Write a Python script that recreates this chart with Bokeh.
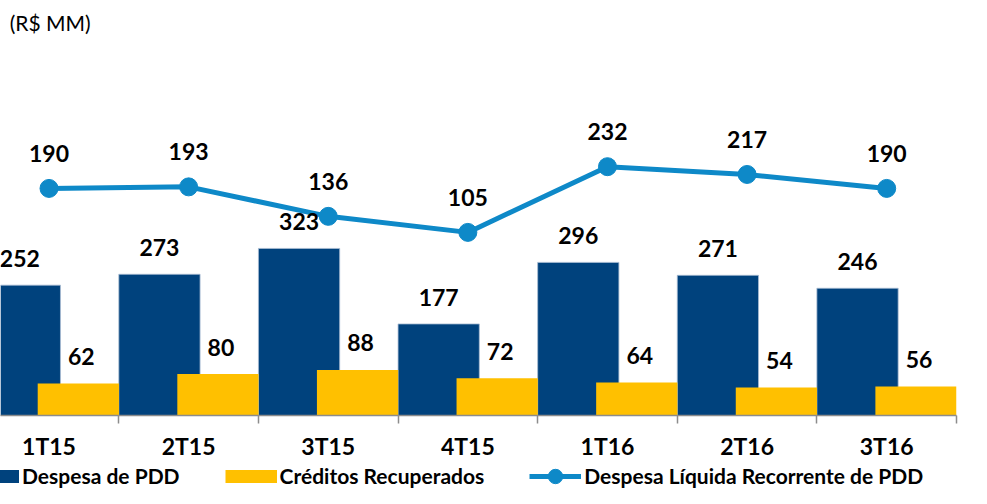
from bokeh.plotting import figure
from bokeh.layouts import column
from bokeh.models import (Range1d, FixedTicker, Legend, LegendItem, Label,
                          ColumnDataSource)
from bokeh.transform import dodge
from bokeh.core.properties import value
from bokeh.embed import file_html
from bokeh.resources import INLINE

# ---- data ----
quarters = ["1T15", "2T15", "3T15", "4T15", "1T16", "2T16", "3T16"]
despesa_pdd = [252, 273, 323, 177, 296, 271, 246]
creditos_recuperados = [62, 80, 88, 72, 64, 54, 56]
despesa_liquida = [190, 193, 136, 105, 232, 217, 190]

series_names = ["Despesa de PDD", "Créditos Recuperados",
                "Despesa Líquida Recorrente de PDD"]

idx = list(range(len(quarters)))
src = ColumnDataSource(dict(
    x=idx,
    desp=despesa_pdd,
    cred=creditos_recuperados,
    liq=despesa_liquida,
    desp_lbl=[str(v) for v in despesa_pdd],
    cred_lbl=[str(v) for v in creditos_recuperados],
    liq_lbl=[str(v) for v in despesa_liquida],
))

DARK = "#00427D"
YELLOW = "#FFC000"
LINE = "#0E89C8"
FONT = "Lato"

X_START = -0.3475
Y_TOP = 802.3
LINE_SHIFT = 249
W = 971

p = figure(width=W, height=462, output_backend="svg", toolbar_location=None,
           x_range=Range1d(X_START, 6.5), y_range=Range1d(0, Y_TOP),
           y_axis_location=None,
           min_border_left=0, min_border_right=15, min_border_top=0,
           min_border_bottom=44)
p.extra_y_ranges = {"line": Range1d(-LINE_SHIFT, Y_TOP - LINE_SHIFT)}
p.outline_line_color = None
p.xgrid.visible = False
p.ygrid.visible = False

BW = 0.582
rd = p.vbar(x=dodge("x", -0.209), top="desp", width=BW, bottom=0, source=src,
            fill_color=DARK, line_color="#A9BCD3", line_width=0.8)
ry = p.vbar(x=dodge("x", 0.21), top="cred", width=BW, bottom=0, source=src,
            fill_color=YELLOW, line_color=None)
rl = p.line(x="x", y="liq", source=src, y_range_name="line",
            line_color=LINE, line_width=5)
rs = p.ellipse(x="x", y="liq", source=src, y_range_name="line",
               width=18, height=18, width_units="screen",
               height_units="screen", fill_color=LINE, line_color=LINE)

common = dict(text_align="center", text_baseline="middle",
              text_font=value(FONT), text_font_style="bold",
              text_font_size="23px", text_color="black")
p.text(x=dodge("x", -0.209), y="desp", text="desp_lbl", source=src,
       y_offset=-26.5, **common)
p.text(x=dodge("x", 0.21), y="cred", text="cred_lbl", source=src,
       x_offset=3, y_offset=-27, **common)
p.text(x="x", y="liq", text="liq_lbl", source=src, y_range_name="line",
       y_offset=-35, **common)

# x axis
ax = p.xaxis[0]
ax.ticker = FixedTicker(ticks=idx, minor_ticks=[i + 0.5 for i in idx])
ax.major_label_overrides = {i: q for i, q in zip(idx, quarters)}
ax.major_tick_line_color = None
ax.major_tick_out = 0
ax.major_tick_in = 0
ax.minor_tick_out = 8
ax.minor_tick_in = 0
ax.minor_tick_line_color = "#8C8C8C"
ax.minor_tick_line_width = 1.5
ax.axis_line_color = "#8C8C8C"
ax.axis_line_width = 1.5
ax.major_label_standoff = 8
ax.major_label_text_font = FONT
ax.major_label_text_font_style = "bold"
ax.major_label_text_font_size = "23px"
ax.major_label_text_color = "black"

# unit label
p.add_layout(Label(x=X_START + 0.066, y=Y_TOP - 43, text="(R$ MM)",
                   text_font=FONT, text_font_size="21px",
                   text_baseline="middle", text_color="black"))

# ---- legend strip ----
lg = figure(width=W, height=26, output_backend="svg", toolbar_location=None,
            x_range=Range1d(0, 1), y_range=Range1d(0, 1),
            x_axis_location=None, y_axis_location=None,
            min_border_left=0, min_border_right=0, min_border_top=0,
            min_border_bottom=0)
lg.outline_line_color = None
lg.xgrid.visible = False
lg.ygrid.visible = False
# swatch proxies placed outside the visible range (legend only)
sw_dark = lg.line(x=[-5, -4], y=[-5, -5], line_color=DARK, line_width=13)
sw_yel = lg.line(x=[-5, -4], y=[-5, -5], line_color=YELLOW, line_width=13)
sw_line = lg.line(x=[-5, -4], y=[-5, -5], line_color=LINE, line_width=5)
sw_dot = lg.ellipse(x=[-5], y=[-5], width=18, height=18, width_units="screen",
                    height_units="screen", fill_color=LINE, line_color=LINE)

leg = Legend(items=[LegendItem(label=series_names[0], renderers=[sw_dark]),
                    LegendItem(label=series_names[1], renderers=[sw_yel]),
                    LegendItem(label=series_names[2],
                               renderers=[sw_line, sw_dot])],
             location=(-33, 0), orientation="horizontal",
             glyph_width=52, glyph_height=18, spacing=45, label_standoff=3,
             padding=0, margin=0, border_line_color=None,
             background_fill_alpha=0,
             label_text_font=FONT, label_text_font_style="bold",
             label_text_font_size="21px", label_text_color="black")
lg.add_layout(leg)

layout = column(p, lg, spacing=0)
open("out.html", "w").write(file_html(layout, INLINE))
